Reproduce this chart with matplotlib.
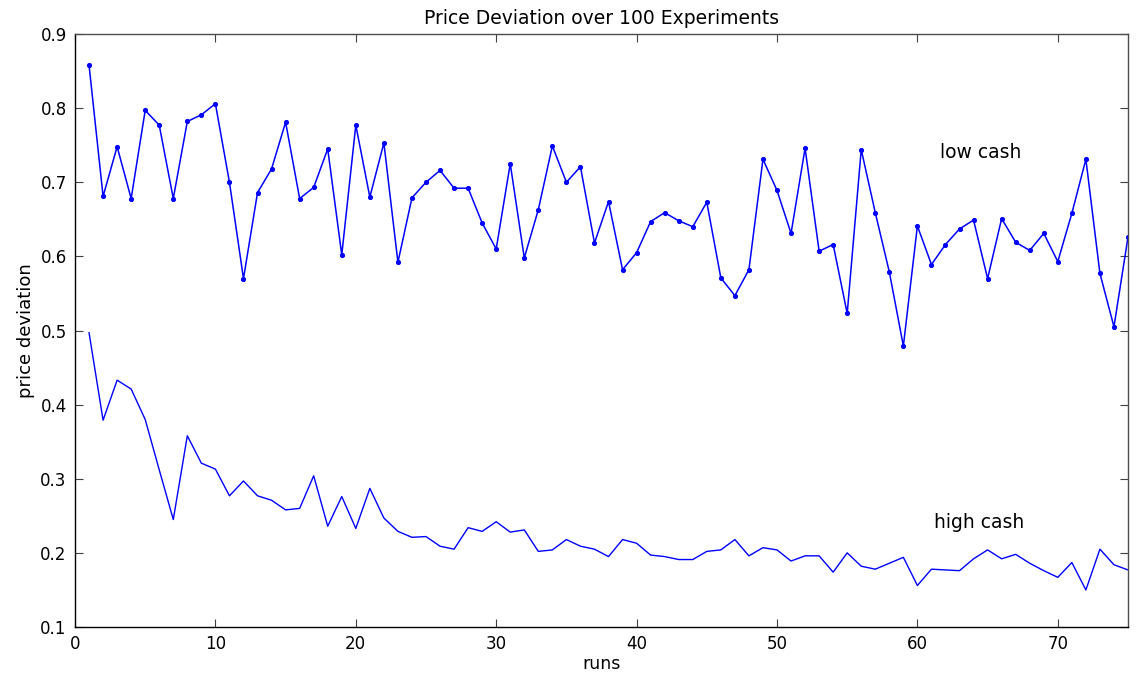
import numpy as np
import matplotlib
matplotlib.use("Agg")
import matplotlib.pyplot as plt

# price deviation per run
runs = np.arange(1, 76)

low_cash = [0.858, 0.681, 0.748, 0.678, 0.797, 0.777, 0.678, 0.782, 0.791, 0.806,
            0.700, 0.570, 0.686, 0.718, 0.781, 0.678, 0.693, 0.745, 0.602, 0.777,
            0.680, 0.753, 0.592, 0.679, 0.700, 0.716, 0.692, 0.692, 0.645, 0.610,
            0.725, 0.598, 0.663, 0.749, 0.700, 0.721, 0.618, 0.674, 0.582, 0.605,
            0.647, 0.659, 0.648, 0.640, 0.673, 0.571, 0.547, 0.582, 0.731, 0.689,
            0.631, 0.746, 0.607, 0.616, 0.523, 0.744, 0.659, 0.579, 0.479, 0.641,
            0.589, 0.616, 0.637, 0.649, 0.570, 0.651, 0.619, 0.608, 0.631, 0.593,
            0.658, 0.731, 0.577, 0.505, 0.626]

high_cash = [0.497, 0.379, 0.433, 0.421, 0.380, 0.312, 0.245, 0.358, 0.321, 0.313,
             0.277, 0.297, 0.277, 0.271, 0.258, 0.260, 0.304, 0.236, 0.276, 0.233,
             0.287, 0.247, 0.229, 0.221, 0.222, 0.209, 0.205, 0.234, 0.229, 0.242,
             0.228, 0.231, 0.202, 0.204, 0.218, 0.209, 0.205, 0.195, 0.218, 0.213,
             0.197, 0.195, 0.191, 0.191, 0.202, 0.204, 0.218, 0.196, 0.207, 0.204,
             0.189, 0.196, 0.196, 0.174, 0.200, 0.182, 0.178, 0.186, 0.194, 0.156,
             0.178, 0.177, 0.176, 0.192, 0.204, 0.192, 0.198, 0.186, 0.176, 0.167,
             0.187, 0.150, 0.205, 0.184, 0.177]

xticks = [0, 10, 20, 30, 40, 50, 60, 70]
yticks = [0.1, 0.2, 0.3, 0.4, 0.5, 0.6, 0.7, 0.8, 0.9]

plt.rcParams['font.family'] = ['DejaVu Sans']

fig = plt.figure(figsize=(11.38, 6.77), dpi=100)
ax = fig.add_axes([75/1138, 50/677, 1053/1138, 593/677])

ax.plot(runs, low_cash, color='#0000ff', lw=1.1, marker='o', ms=2.7)
ax.plot(runs, high_cash, color='#0000ff', lw=1.0)

ax.text(61.6, 0.74, 'low cash', fontsize=13.5, va='center', ha='left')
ax.text(61.2, 0.241, 'high cash', fontsize=13.5, va='center', ha='left')

ax.set_xlim(0, 75)
ax.set_ylim(0.1, 0.9)
ax.set_xticks(xticks)
ax.set_yticks(yticks)
ax.set_yticklabels(['%.1f' % v for v in yticks])
ax.tick_params(direction='in', length=6, width=0.8, top=True, right=True,
               labelsize=12, pad=6, color='0.25')

for s in ax.spines.values():
    s.set_linewidth(1.0)
ax.spines['top'].set_color('0.3')
ax.spines['right'].set_color('0.3')

ax.set_title('Price Deviation over 100 Experiments', fontsize=13.5, pad=7)
ax.set_xlabel('runs', fontsize=12.5, labelpad=1)
ax.set_ylabel('price deviation', fontsize=13, labelpad=4)

fig.savefig('out.png', dpi=100)
